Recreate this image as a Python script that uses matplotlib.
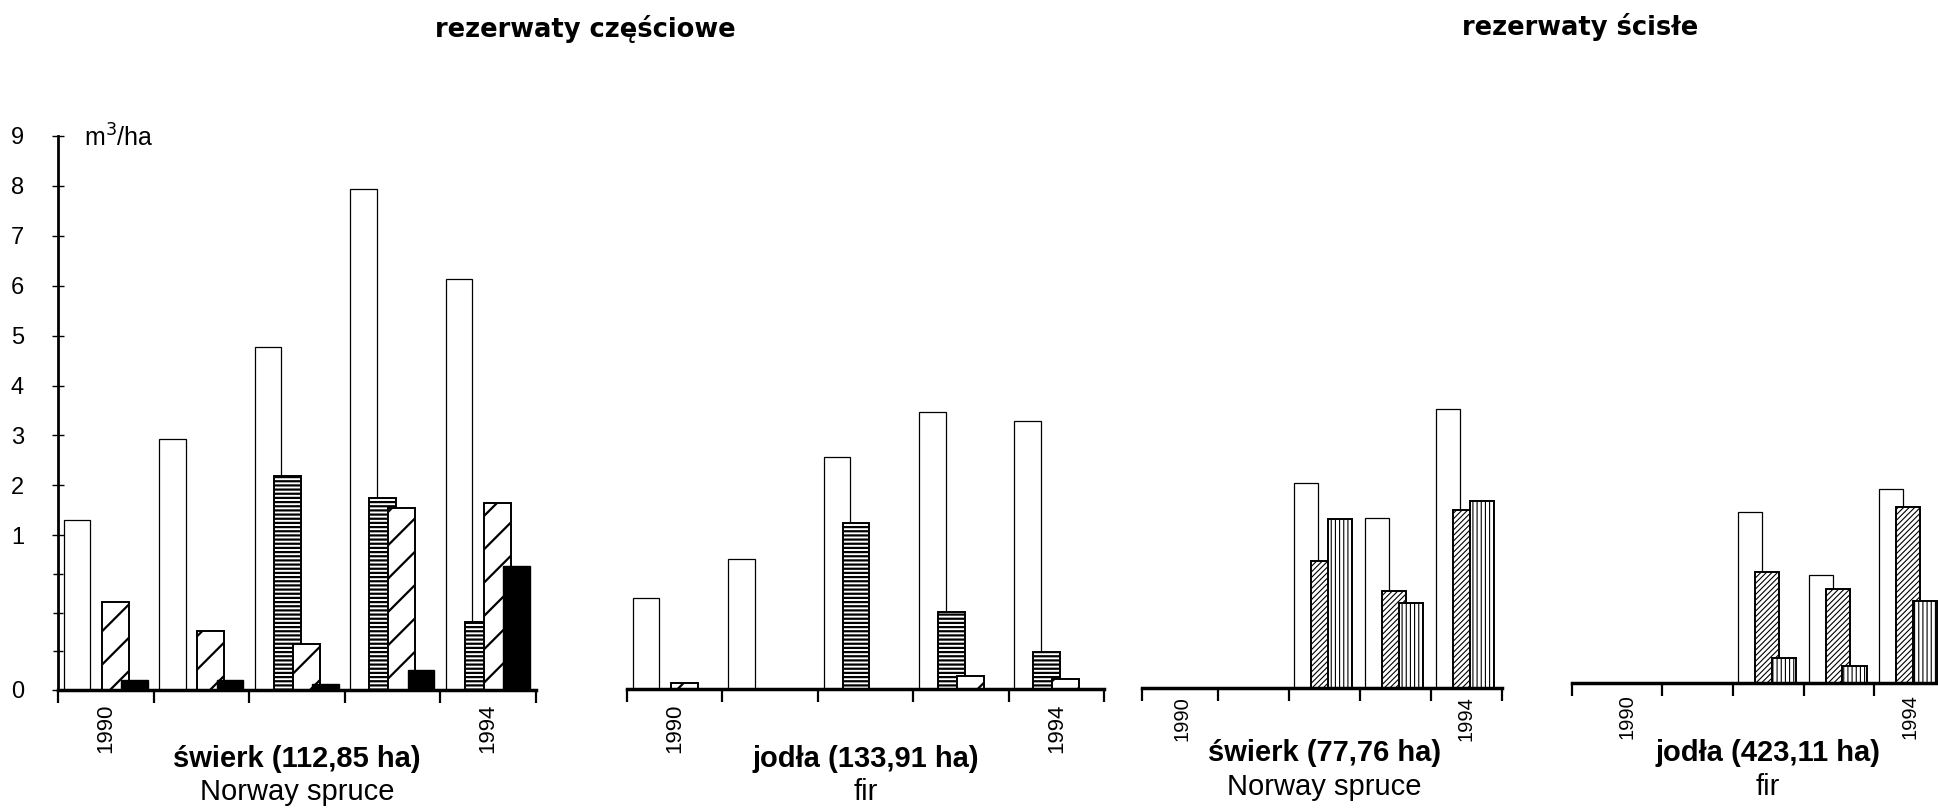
import numpy as np
import matplotlib.pyplot as plt

plt.rcParams['font.family'] = ['Liberation Sans', 'DejaVu Sans']
plt.rcParams['hatch.linewidth'] = 1.4

years = [1990, 1991, 1992, 1993, 1994]

# rezerwaty częściowe, świerk (112,85 ha)
spruce_part_white = [1.30, 2.92, 4.77, 7.93, 6.14]
spruce_part_horiz = [0.0, 0.0, 2.18, 1.75, 0.44]
spruce_part_diag = [0.57, 0.38, 0.30, 1.55, 1.65]
spruce_part_black = [0.065, 0.065, 0.04, 0.13, 0.80]

# rezerwaty częściowe, jodła (133,91 ha)
fir_part_white = [0.59, 0.84, 2.55, 3.45, 3.26]
fir_part_horiz = [0.0, 0.0, 1.22, 0.50, 0.24]
fir_part_diag = [0.04, 0.0, 0.0, 0.086, 0.065]
fir_part_black = [0.0, 0.0, 0.0, 0.0, 0.0]

# rezerwaty ścisłe, świerk (77,76 ha)
spruce_strict_white = [0.0, 0.0, 2.0, 1.30, 3.5]
spruce_strict_diag = [0.0, 0.0, 0.82, 0.63, 1.47]
spruce_strict_vert = [0.0, 0.0, 1.28, 0.55, 1.64]

# rezerwaty ścisłe, jodła (423,11 ha)
fir_strict_white = [0.0, 0.0, 1.33, 0.70, 1.79]
fir_strict_diag = [0.0, 0.0, 0.72, 0.61, 1.42]
fir_strict_vert = [0.0, 0.0, 0.16, 0.11, 0.53]

y_ticks = [0, 1, 2, 3, 4, 5, 6, 7, 8, 9]

# lower part (0-1) of the axis is stretched K times
K = 3.1


def fwd(v):
    v = np.asarray(v, dtype=float)
    return np.where(v <= 1, v * K, K + v - 1)


def inv(u):
    u = np.asarray(u, dtype=float)
    return np.where(u <= K, u / K, u - K + 1)


W, H = 1938, 808
fig = plt.figure(figsize=(W / 100, H / 100), dpi=100)
PX = 72 / 100  # pixels -> points


def make_axes(x0, x1, base, xmin=0.0):
    ax = fig.add_axes([x0 / W, (H - base) / H, (x1 - x0) / W, 554 / H])
    ax.set_yscale('function', functions=(fwd, inv))
    ax.set_ylim(0, 9)
    ax.set_xlim(xmin, 5)
    for s in ['top', 'right', 'left']:
        ax.spines[s].set_visible(False)
    ax.spines['bottom'].set_linewidth(2.5)
    ax.set_xticks([xmin, 1, 2, 3, 4, 5])
    ax.set_xticklabels([])
    ax.tick_params(axis='x', direction='out', length=9, width=1.6)
    ax.set_yticks([])
    ax.minorticks_off()
    ax.patch.set_alpha(0)
    return ax


def styles_for(n):
    if n == 4:
        return [
            dict(facecolor='white', edgecolor='black', linewidth=0.9),
            dict(facecolor='white', edgecolor='black', linewidth=1.4, hatch='----'),
            dict(facecolor='white', edgecolor='black', linewidth=1.4, hatch='/'),
            dict(facecolor='black', edgecolor='black', linewidth=1.0),
        ]
    return [
        dict(facecolor='white', edgecolor='black', linewidth=0.9),
        dict(facecolor='white', edgecolor='black', linewidth=1.4, hatch='//////'),
        dict(facecolor='white', edgecolor='black', linewidth=1.4, hatch='||||'),
    ]


def draw_bars(ax, series, centers, width, hatch_lw):
    x = np.arange(len(years))
    for vals, c, style in zip(series, centers, styles_for(len(series))):
        bars = ax.bar(x + c, vals, width, **style)
        for p in bars.patches:
            if hasattr(p, 'set_hatch_linewidth'):
                p.set_hatch_linewidth(hatch_lw)


def labels(ax, name, latin, year_off, name_off, latin_off, year_size):
    for i in (0, len(years) - 1):
        ax.annotate(str(years[i]), xy=(i + 0.5, 0), xycoords=('data', 'axes fraction'),
                    xytext=(0, -year_off * PX), textcoords='offset points',
                    rotation=90, ha='center', va='center', fontsize=year_size)
    ax.annotate(name, xy=(2.5, 0), xycoords=('data', 'axes fraction'),
                xytext=(0, -name_off * PX), textcoords='offset points',
                ha='center', va='baseline', fontsize=21, fontweight='bold')
    ax.annotate(latin, xy=(2.5, 0), xycoords=('data', 'axes fraction'),
                xytext=(0, -latin_off * PX), textcoords='offset points',
                ha='center', va='baseline', fontsize=21)


# panel 1 carries the y axis
ax1 = make_axes(58, 535.5, 690)
ax1.spines['left'].set_visible(True)
ax1.spines['left'].set_linewidth(2)
ax1.set_yticks(y_ticks)
ax1.set_yticklabels([str(t) for t in y_ticks], fontsize=17)
ax1.set_yticks([0.25, 0.5, 0.75], minor=True)
ax1.tick_params(axis='y', which='major', direction='inout', length=9, width=1.0, pad=20)
ax1.tick_params(axis='y', which='minor', direction='inout', length=7, width=1.0)
draw_bars(ax1, [spruce_part_white, spruce_part_horiz, spruce_part_diag, spruce_part_black],
          [0.2, 0.4, 0.6, 0.8], 0.28, 1.6)
labels(ax1, 'świerk (112,85 ha)', 'Norway spruce', 38, 77, 110, 16)

ax2 = make_axes(627, 1104, 689)
draw_bars(ax2, [fir_part_white, fir_part_horiz, fir_part_diag, fir_part_black],
          [0.2, 0.4, 0.6, 0.8], 0.28, 1.6)
labels(ax2, 'jodła (133,91 ha)', 'fir', 39, 78, 111, 16)

ax3 = make_axes(1142, 1502, 688, xmin=-0.07)
draw_bars(ax3, [spruce_strict_white, spruce_strict_diag, spruce_strict_vert],
          [0.24, 0.48, 0.72], 0.34, 0.8)
labels(ax3, 'świerk (77,76 ha)', 'Norway spruce', 31, 73, 107, 14.5)

ax4 = make_axes(1591.5 - 0.27 * 70.7, 1591.5 + 5 * 70.7, 683, xmin=-0.27)
draw_bars(ax4, [fir_strict_white, fir_strict_diag, fir_strict_vert],
          [0.24, 0.48, 0.72], 0.34, 0.8)
labels(ax4, 'jodła (423,11 ha)', 'fir', 34, 78, 112, 14.5)

fig.text(84 / W, 1 - 147 / H, 'm$^3$/ha', fontsize=18, ha='left', va='baseline')
fig.text(585 / W, 1 - 37 / H, 'rezerwaty częściowe', fontsize=18.5,
         fontweight='bold', family='DejaVu Sans', ha='center', va='baseline')
fig.text(1580 / W, 1 - 35 / H, 'rezerwaty ścisłe', fontsize=18.5,
         fontweight='bold', family='DejaVu Sans', ha='center', va='baseline')

fig.savefig('out.png', dpi=100, facecolor='white')
